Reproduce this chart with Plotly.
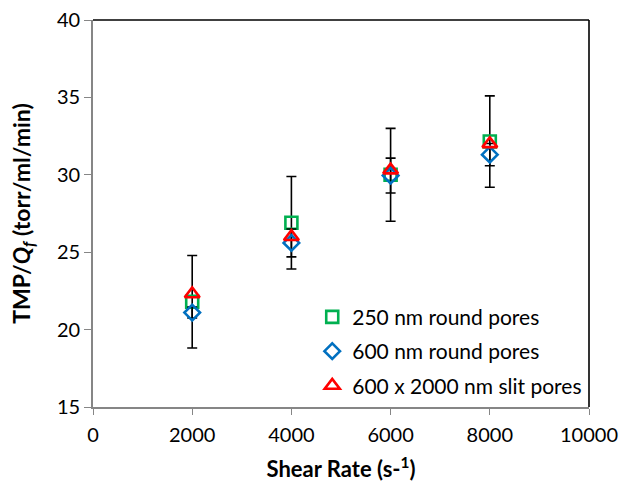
import plotly.graph_objects as go

shear_rate = [2000, 4000, 6000, 8000]

names = ["250 nm round pores", "600 nm round pores", "600 x 2000 nm slit pores"]
tmp_250 = [21.8, 26.9, 30.0, 32.15]
err_250 = [2.99, 2.99, 3.0, 2.95]
tmp_600 = [21.1, 25.6, 29.95, 31.3]
err_600 = [0.35, 0.9, 1.13, 0.72]
tmp_slit = [22.3, 26.0, 30.3, 32.0]

colors = ["#00B050", "#0070C0", "#FF0000"]
symbols = ["square-open", "diamond-open", "triangle-up-open"]
sizes = [12, 12, 13]

FONT = "Lato"

fig = go.Figure()
series = [(tmp_250, err_250), (tmp_600, err_600), (tmp_slit, None)]
for i, (name, (vals, err), col, sym, sz) in enumerate(zip(names, series, colors, symbols, sizes)):
    kw = {}
    if err is not None:
        kw["error_y"] = dict(type="data", array=err, visible=True,
                             color="black", thickness=1.6, width=5)
    fig.add_trace(go.Scatter(
        x=shear_rate, y=vals, mode="markers", name=name, legendgroup=f"g{i}",
        marker=dict(symbol=sym, size=sz, color=col, line=dict(width=2.6, color=col)),
        **kw))

fig.update_layout(
    width=623, height=489,
    margin=dict(l=93, r=34, t=20, b=82, autoexpand=False),
    paper_bgcolor="white", plot_bgcolor="white",
    font=dict(family=FONT, size=20, color="black"),
    showlegend=True,
    legend=dict(x=0.442, y=0.285, xanchor="left", yanchor="top",
                bgcolor="rgba(0,0,0,0)", font=dict(family=FONT, size=21),
                itemwidth=30, tracegroupgap=4, traceorder="grouped"),
    xaxis=dict(range=[0, 10000], dtick=2000, tick0=0, tickformat="d",
               showgrid=False, zeroline=False, automargin=False,
               showline=True, linecolor="#868686", linewidth=1.6,
               ticks="outside", ticklen=6, tickcolor="#868686", tickwidth=1.3,
               tickfont=dict(size=20), ticklabelstandoff=3,
               title=dict(text="<b>Shear Rate (s-<sup>1</sup>)</b>", font=dict(size=22), standoff=17)),
    yaxis=dict(range=[15, 40], dtick=5, tick0=15, showgrid=False, zeroline=False, automargin=False,
               showline=True, linecolor="#868686", linewidth=1.6,
               ticks="outside", ticklen=7, tickcolor="#868686", tickwidth=1.3,
               tickfont=dict(size=20),
               title=dict(text="<b>TMP/<i>Q<sub>f</sub></i> (torr/ml/min)</b>", font=dict(size=23), standoff=20)),
    shapes=[
        dict(type="line", xref="x domain", yref="y domain", x0=0, x1=1, y0=1, y1=1,
             line=dict(color="black", width=1.6)),
        dict(type="line", xref="x domain", yref="y domain", x0=1, x1=1, y0=0, y1=1,
             line=dict(color="black", width=1.6)),
    ],
)

fig.write_html("out.html")
